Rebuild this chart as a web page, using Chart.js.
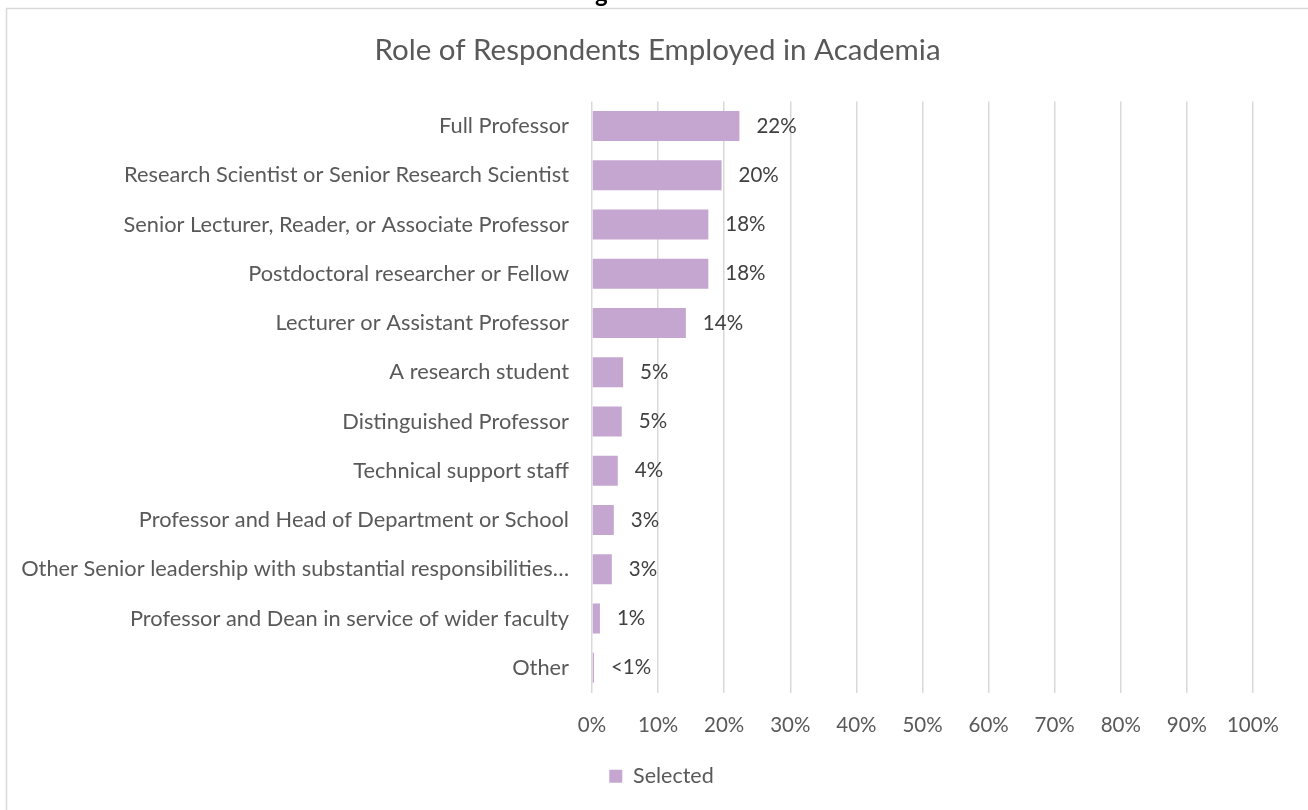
<!DOCTYPE html>
<html>
<head>
<meta charset="utf-8">
<title>Role of Respondents Employed in Academia</title>
<script src="https://cdn.jsdelivr.net/npm/chart.js"></script>
<style>
  html, body { margin: 0; padding: 0; background: #ffffff; }
  #wrap { position: relative; width: 1308px; height: 810px; }
  canvas { display: block; }
</style>
</head>
<body>
<div id="wrap"><canvas id="chart" width="1308" height="810"></canvas></div>
<script>
// Roles, top to bottom
const roles = [
  "Full Professor",
  "Research Scientist or Senior Research Scientist",
  "Senior Lecturer, Reader, or Associate Professor",
  "Postdoctoral researcher or Fellow",
  "Lecturer or Assistant Professor",
  "A research student",
  "Distinguished Professor",
  "Technical support staff",
  "Professor and Head of Department or School",
  "Other Senior leadership with substantial responsibilities\u2026",
  "Professor and Dean in service of wider faculty",
  "Other"
];

// Share of respondents selecting each role (%)
const selected = [22.3, 19.6, 17.6, 17.6, 14.2, 4.7, 4.5, 3.9, 3.3, 3.0, 1.2, 0.3];

// Percentage axis ticks
const xTicks = [0, 10, 20, 30, 40, 50, 60, 70, 80, 90, 100];

const seriesName = "Selected";
const chartTitle = "Role of Respondents Employed in Academia";
const headingFragment = "g";

const FONT = "Lato, 'Open Sans', 'Liberation Sans', sans-serif";
const TEXT = "#595959";
const GRID = "#d9d9d9";
const BAR = "#c4a6d0";

const PAD_LEFT = 10;
const PLOT_LEFT = 592;

function pctLabel(v) {
  return v < 0.5 ? "<1%" : Math.round(v) + "%";
}

// Page frame, heading remnant and white background
const framePlugin = {
  id: "frame",
  beforeDraw(chart) {
    const ctx = chart.ctx;
    ctx.save();
    ctx.fillStyle = "#ffffff";
    ctx.fillRect(0, 0, chart.width, chart.height);
    ctx.strokeStyle = GRID;
    ctx.lineWidth = 1.5;
    ctx.beginPath();
    ctx.moveTo(6.5, chart.height + 5);
    ctx.lineTo(6.5, 8.5);
    ctx.lineTo(chart.width + 5, 8.5);
    ctx.stroke();
    ctx.fillStyle = "#000000";
    ctx.font = "bold 24px " + FONT;
    ctx.textBaseline = "alphabetic";
    ctx.fillText(headingFragment, 595, 2);
    ctx.restore();
  }
};

// Centre the title and legend on the page frame rather than the padded box
const centreShift = {
  id: "centreShift",
  afterLayout(chart) {
    const t = chart.titleBlock;
    if (t) { t.left += 26; t.right += 26; }
    const l = chart.legend;
    if (l) { l.left += 30; l.right += 30; }
  }
};

// Value labels at the end of each bar
const valueLabels = {
  id: "valueLabels",
  afterDatasetsDraw(chart) {
    const ctx = chart.ctx;
    const meta = chart.getDatasetMeta(0);
    ctx.save();
    ctx.font = "20.5px " + FONT;
    ctx.fillStyle = "#404040";
    ctx.textAlign = "left";
    ctx.textBaseline = "middle";
    meta.data.forEach((bar, i) => {
      ctx.fillText(pctLabel(selected[i]), bar.x + 17, bar.y);
    });
    ctx.restore();
  }
};

new Chart(document.getElementById("chart"), {
  type: "bar",
  data: {
    labels: roles,
    datasets: [{
      label: seriesName,
      data: selected,
      backgroundColor: BAR,
      borderWidth: 0,
      barPercentage: 1,
      categoryPercentage: 0.609
    }]
  },
  options: {
    indexAxis: "y",
    responsive: false,
    animation: false,
    devicePixelRatio: 1,
    layout: { padding: { left: PAD_LEFT, right: 55, top: 0, bottom: 13 } },
    scales: {
      x: {
        min: 0,
        max: 100,
        afterBuildTicks(scale) { scale.ticks = xTicks.map(v => ({ value: v })); },
        afterFit(scale) { scale.height = 63; },
        grid: { color: GRID, lineWidth: 1.5, drawTicks: false },
        border: { display: false },
        ticks: {
          padding: 21,
          color: TEXT,
          font: { family: FONT, size: 20.5 },
          callback: v => v + "%",
          maxRotation: 0
        }
      },
      y: {
        afterFit(scale) { scale.width = PLOT_LEFT - PAD_LEFT; },
        grid: { display: false, drawTicks: false },
        border: { display: false },
        ticks: {
          padding: 23,
          color: TEXT,
          font: { family: FONT, size: 21.8 },
          autoSkip: false
        }
      }
    },
    plugins: {
      title: {
        display: true,
        text: chartTitle,
        color: TEXT,
        font: { family: FONT, size: 29.5, weight: "normal" },
        padding: { top: 33, bottom: 33 }
      },
      legend: {
        position: "bottom",
        labels: {
          boxWidth: 13,
          boxHeight: 13,
          padding: 10,
          color: TEXT,
          font: { family: FONT, size: 21.5 }
        }
      },
      tooltip: { enabled: false }
    }
  },
  plugins: [framePlugin, centreShift, valueLabels]
});
</script>
</body>
</html>
